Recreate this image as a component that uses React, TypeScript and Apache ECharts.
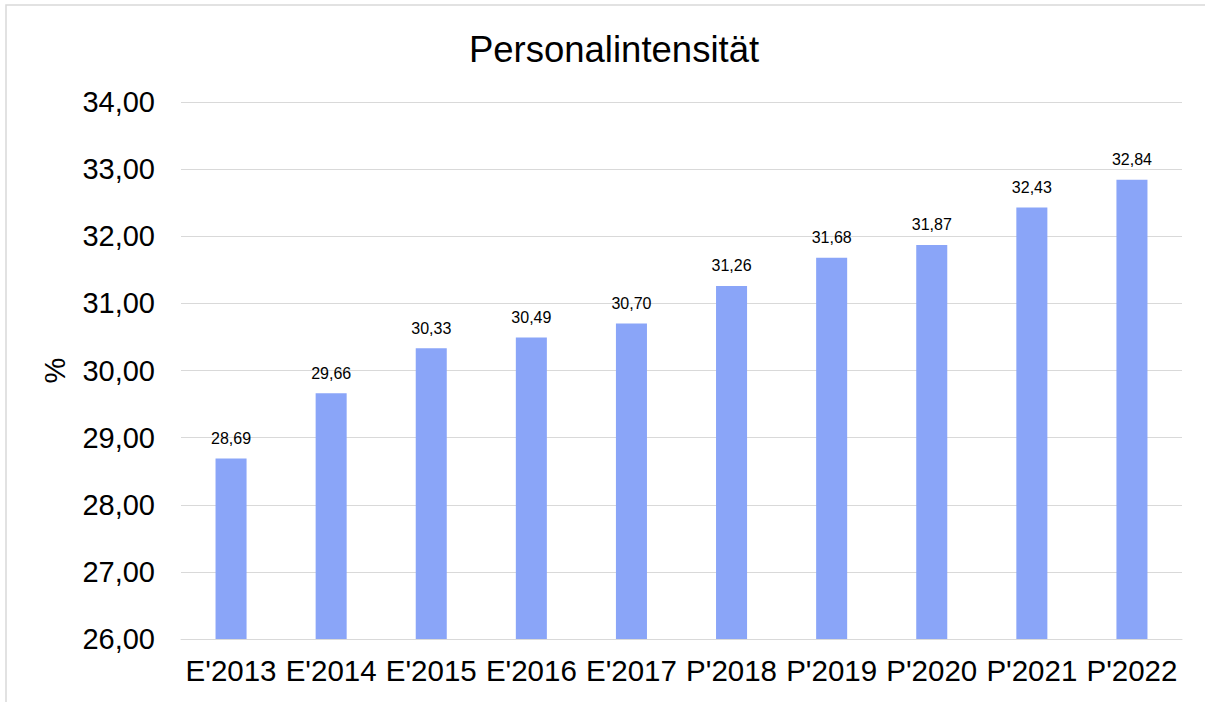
import React, { useEffect, useRef } from "react";
import * as echarts from "echarts";

const categories = ["E'2013", "E'2014", "E'2015", "E'2016", "E'2017", "P'2018", "P'2019", "P'2020", "P'2021", "P'2022"];
const values = [28.69, 29.66, 30.33, 30.49, 30.7, 31.26, 31.68, 31.87, 32.43, 32.84];
const yMin = 26;
const yMax = 34;
const yStep = 1;

const fmt = (v: number) => v.toFixed(2).replace(".", ",");

export default function App() {
  const ref = useRef<HTMLDivElement>(null);
  useEffect(() => {
    const chart = echarts.init(ref.current!, null, { renderer: "svg" });
    const font = "Liberation Sans, Arial, sans-serif";
    chart.setOption({
      animation: false,
      backgroundColor: "#ffffff",
      title: {
        text: "Personalintensität",
        left: 609,
        top: 26,
        textAlign: "center",
        textStyle: { fontFamily: font, fontSize: 36.5, fontWeight: "normal", color: "#000" },
      },
      graphic: [
        {
          type: "rect",
          shape: { x: 6, y: 5, width: 1300, height: 800 },
          style: { fill: "none", stroke: "#d9d9d9", lineWidth: 1.5 },
          silent: true,
        },
      ],
      grid: { left: 181, right: 23, top: 102, bottom: 63, containLabel: false },
      xAxis: {
        type: "category",
        data: categories,
        axisLine: { show: true, lineStyle: { color: "#d9d9d9", width: 1 } },
        axisTick: { show: false },
        axisLabel: { fontFamily: font, fontSize: 29.5, color: "#000", margin: 16, interval: 0 },
      },
      yAxis: {
        type: "value",
        min: yMin,
        max: yMax,
        interval: yStep,
        name: "%",
        nameLocation: "middle",
        nameGap: 112,
        nameRotate: 90,
        nameTextStyle: { fontFamily: font, fontSize: 29, color: "#000" },
        axisLine: { show: false },
        axisTick: { show: false },
        splitLine: { lineStyle: { color: "#d9d9d9", width: 1 } },
        axisLabel: { fontFamily: font, fontSize: 29, color: "#000", margin: 26, formatter: (v: number) => fmt(v) },
      },
      series: [
        {
          type: "bar",
          data: values,
          barWidth: "31%",
          itemStyle: { color: "#8aa5f8" },
          label: {
            show: true,
            position: "top",
            distance: 12,
            fontFamily: font,
            fontSize: 16,
            color: "#000",
            formatter: (p: any) => fmt(p.value),
          },
        },
      ],
    });
    return () => chart.dispose();
  }, []);
  return <div ref={ref} style={{ position: "fixed", left: 0, top: 0, width: 1205, height: 702 }} />;
}
